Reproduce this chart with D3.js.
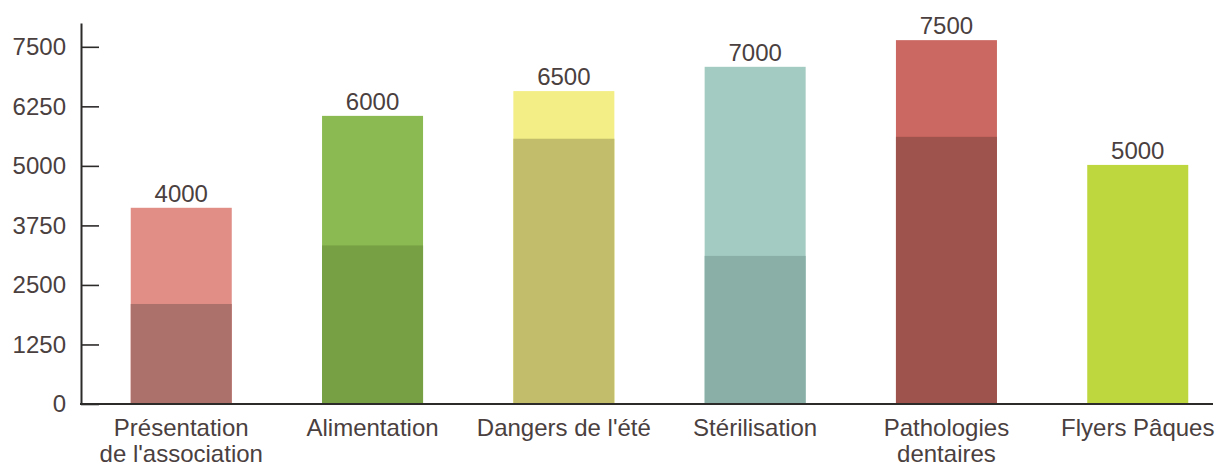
<!DOCTYPE html>
<html>
<head>
<meta charset="utf-8">
<script src="https://cdn.jsdelivr.net/npm/d3@7"></script>
<style>
  body { margin: 0; background: #fff; }
  text { font-family: "Liberation Sans", Arial, sans-serif; fill: #4a4040; }
</style>
</head>
<body>
<div class="chart"></div>
<script>
// data
var categories = ["Présentation\nde l'association", "Alimentation", "Dangers de l'été", "Stérilisation", "Pathologies\ndentaires", "Flyers Pâques"];
var totalValues = [4120, 6050, 6570, 7080, 7640, 5020];
var baseValues = [2100, 3330, 5570, 3110, 5610, 0];
var valueLabels = ["4000", "6000", "6500", "7000", "7500", "5000"];
var yTicks = [0, 1250, 2500, 3750, 5000, 6250, 7500];

var lightColors = ["#e08e86", "#8bba52", "#f3ef86", "#a4cbc1", "#cb6861", "#bfd73e"];
var darkColors = ["#ad716b", "#77a044", "#c1bd6a", "#8aafa6", "#9f534d", "#bfd73e"];

var svgWidth = 1221;
var svgHeight = 468;

var axisLeftX = 81;
var axisRightX = 1213;
var baseY = 404;

var svg = d3.select(".chart")
  .append("svg")
  .attr("width", svgWidth)
  .attr("height", svgHeight);

// scales
var xScale = d3.scaleBand()
  .domain(categories)
  .range([85.6, 1233.4])
  .paddingInner(0.472)
  .paddingOuter(0.236);

var yScale = d3.scaleLinear()
  .domain([0, 8000])
  .range([baseY, 23]);

// bars: light full bar, dark lower part on top
var bars = svg.selectAll(".bar")
  .data(categories)
  .enter()
  .append("g")
  .attr("class", "bar");

bars.append("rect")
  .attr("x", d => xScale(d))
  .attr("width", xScale.bandwidth())
  .attr("y", (d, i) => yScale(totalValues[i]))
  .attr("height", (d, i) => baseY - yScale(totalValues[i]))
  .attr("fill", (d, i) => lightColors[i]);

bars.append("rect")
  .attr("x", d => xScale(d))
  .attr("width", xScale.bandwidth())
  .attr("y", (d, i) => yScale(baseValues[i]))
  .attr("height", (d, i) => baseY - yScale(baseValues[i]))
  .attr("fill", (d, i) => darkColors[i]);

// value labels
bars.append("text")
  .attr("x", d => xScale(d) + xScale.bandwidth() / 2)
  .attr("y", (d, i) => yScale(totalValues[i]) - 6)
  .attr("text-anchor", "middle")
  .style("font-size", "24px")
  .text((d, i) => valueLabels[i]);

// y axis
var leftAxis = d3.axisLeft(yScale)
  .tickValues(yTicks)
  .tickSizeInner(-18)
  .tickSizeOuter(0)
  .tickPadding(15)
  .tickFormat(d3.format("d"));

var yAxisGroup = svg.append("g")
  .attr("transform", `translate(${axisLeftX},0)`)
  .call(leftAxis);

yAxisGroup.select(".domain")
  .attr("stroke", "#2d2a2a")
  .attr("stroke-width", 2);
yAxisGroup.selectAll(".tick line")
  .attr("stroke", "#2d2a2a")
  .attr("stroke-width", 1.6);
yAxisGroup.selectAll(".tick text")
  .attr("fill", "#4a4040")
  .style("font-size", "24px")
  .style("font-family", "'Liberation Sans', Arial, sans-serif");

// baseline
svg.append("line")
  .attr("x1", axisLeftX - 1)
  .attr("x2", axisRightX)
  .attr("y1", baseY)
  .attr("y2", baseY)
  .attr("stroke", "#2d2a2a")
  .attr("stroke-width", 2);

// category labels
var catLabels = svg.selectAll(".cat")
  .data(categories)
  .enter()
  .append("text")
  .attr("class", "cat")
  .attr("text-anchor", "middle")
  .style("font-size", "24px");

catLabels.selectAll("tspan")
  .data(d => d.split("\n").map(line => ({ line: line, cat: d })))
  .enter()
  .append("tspan")
  .attr("x", d => xScale(d.cat) + xScale.bandwidth() / 2)
  .attr("y", (d, i) => 436 + i * 26)
  .text(d => d.line);
</script>
</body>
</html>
